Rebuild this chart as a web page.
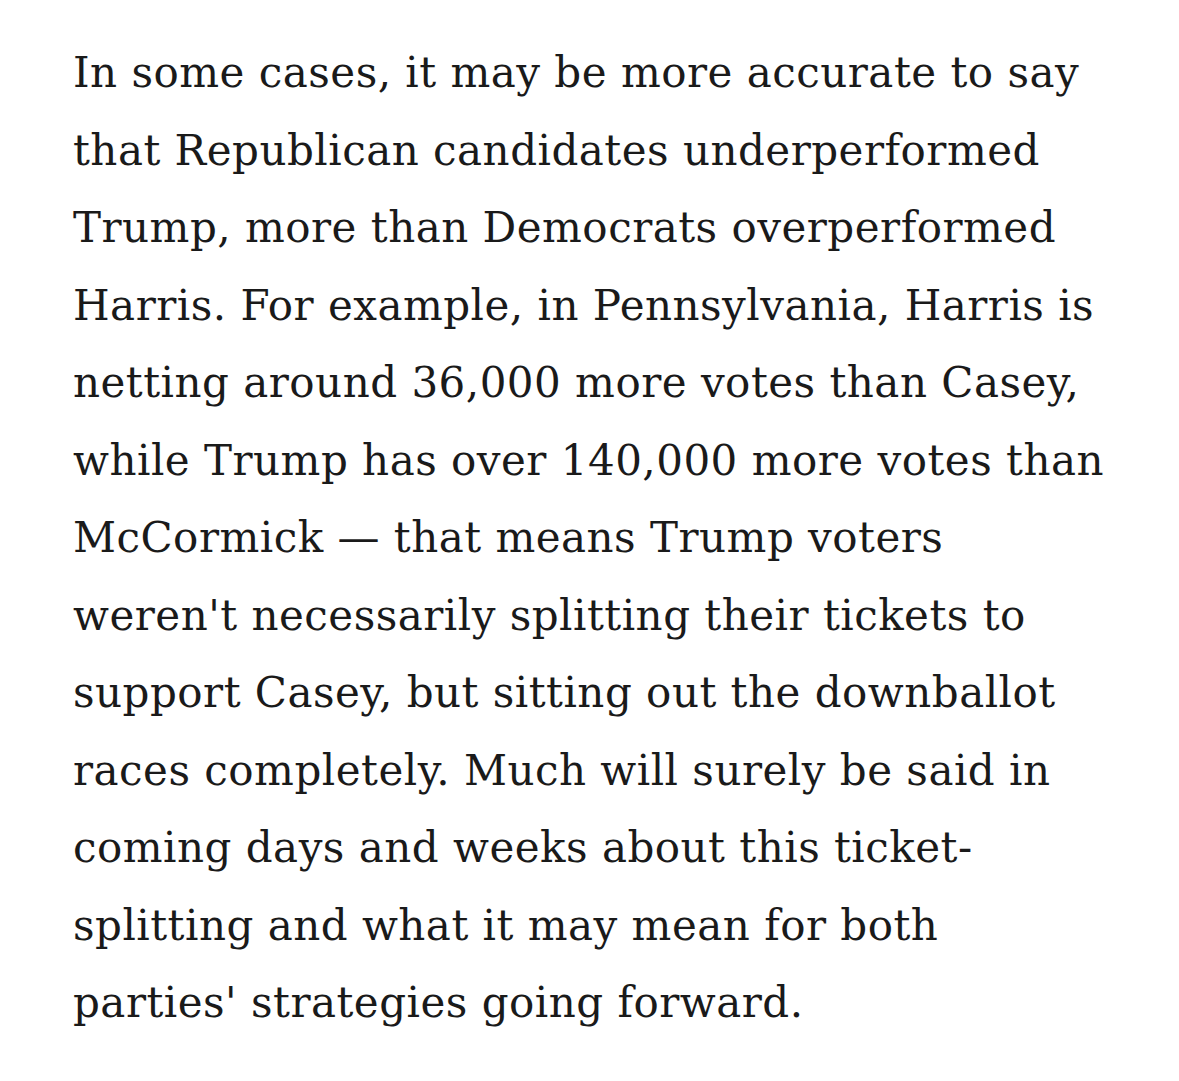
<!DOCTYPE html>
<html>
<head>
<meta charset="utf-8">
<script src="https://cdn.jsdelivr.net/npm/d3@7"></script>
<style>
  html, body { margin: 0; padding: 0; background: #fff; }
</style>
</head>
<body>
<div id="page"></div>
<script>
// paragraph lines, as broken in the original
const lines = [
  'In some cases, it may be more accurate to say',
  'that Republican candidates underperformed',
  'Trump, more than Democrats overperformed',
  'Harris. For example, in Pennsylvania, Harris is',
  'netting around 36,000 more votes than Casey,',
  'while Trump has over 140,000 more votes than',
  'McCormick \u2014 that means Trump voters',
  "weren't necessarily splitting their tickets to",
  'support Casey, but sitting out the downballot',
  'races completely. Much will surely be said in',
  'coming days and weeks about this ticket-',
  'splitting and what it may mean for both',
  "parties' strategies going forward."
]

const width = 1179
const height = 1081
const margin = { top: 87, left: 73 }
const columnWidth = 1031
const lineHeight = 77.5
const fontSize = 42

const svg = d3
  .select('#page')
  .append('svg')
  .attr('width', width)
  .attr('height', height)

svg.append('rect')
  .attr('width', width)
  .attr('height', height)
  .attr('fill', '#fff')

const yScale = d3
  .scaleLinear()
  .domain([0, lines.length - 1])
  .range([margin.top, margin.top + lineHeight * (lines.length - 1)])

const text = svg
  .append('g')
  .attr('transform', 'translate(' + margin.left + ',0)')
  .selectAll('text')
  .data(lines)
  .enter()
  .append('text')
  .attr('x', 0)
  .attr('y', (d, i) => yScale(i))
  .attr('fill', '#1a1a1a')
  .style('font-family', '"DejaVu Serif", serif')
  .style('font-size', fontSize + 'px')
  .text(d => d)

// tighten the tracking so the longest line fills the column
const widestNode = text.nodes().reduce((a, b) =>
  b.getComputedTextLength() > a.getComputedTextLength() ? b : a)
const extra = columnWidth - widestNode.getComputedTextLength()
const spacing = extra / widestNode.textContent.length
text.style('letter-spacing', spacing + 'px')
</script>
</body>
</html>
